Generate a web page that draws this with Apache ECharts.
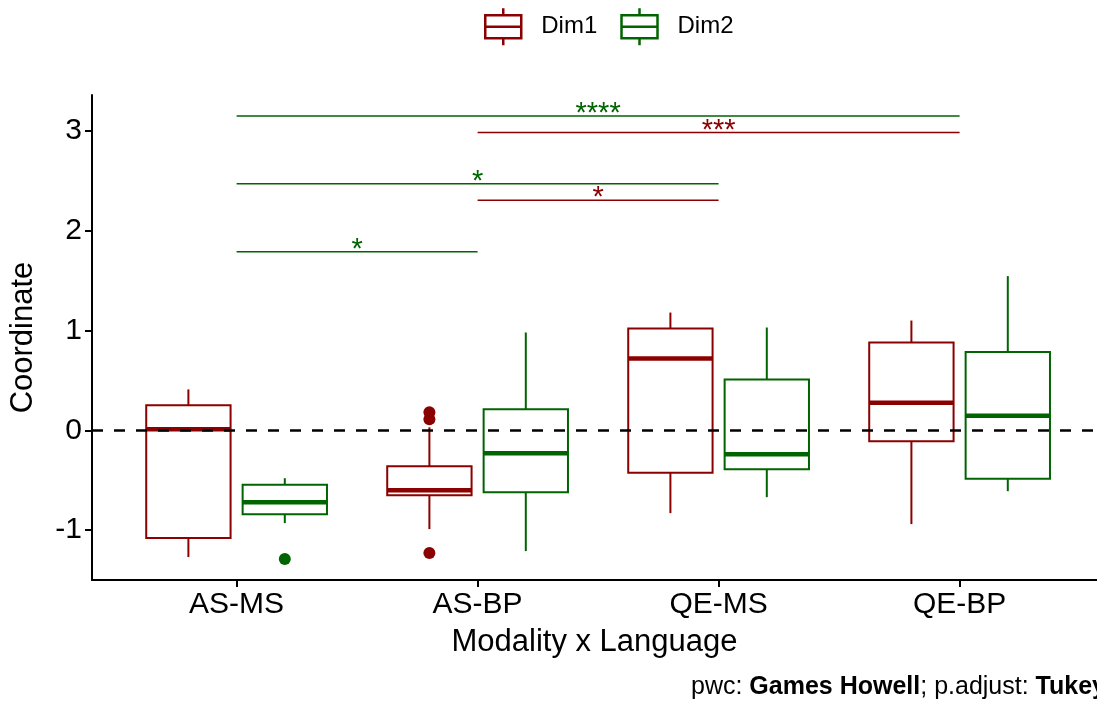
<!DOCTYPE html>
<html>
<head>
<meta charset="utf-8">
<script src="https://cdn.jsdelivr.net/npm/echarts@6/dist/echarts.min.js"></script>
<style>
  html, body { margin: 0; padding: 0; background: #fff; }
  #chart { width: 1097px; height: 702px; }
</style>
</head>
<body>
<div id="chart"></div>
<script>
// categories on the x axis
const categories = ['AS-MS', 'AS-BP', 'QE-MS', 'QE-BP'];

// box stats per category: [min, Q1, median, Q3, max]
const dim1Stats = [
  [-1.27, -1.08, 0.01, 0.25, 0.41],
  [-0.99, -0.65, -0.60, -0.36, 0.03],
  [-0.83, -0.425, 0.72, 1.02, 1.18],
  [-0.94, -0.11, 0.275, 0.88, 1.10]
];
const dim2Stats = [
  [-0.93, -0.84, -0.72, -0.545, -0.48],
  [-1.21, -0.62, -0.23, 0.21, 0.98],
  [-0.67, -0.39, -0.24, 0.51, 1.03],
  [-0.61, -0.485, 0.145, 0.785, 1.545]
];

// outliers: [category index (1-based), value]
const dim1Outliers = [[2, 0.18], [2, 0.11], [2, -1.23]];
const dim2Outliers = [[1, -1.29]];

// significance brackets: [from category, to category, y]
const brackets = [
  [1, 4, 3.15],
  [2, 4, 2.983],
  [1, 3, 2.47],
  [2, 3, 2.305],
  [1, 2, 1.79]
];
const bracketLabels = ['****', '***', '*', '*', '*'];
const bracketGroup = ['Dim2', 'Dim1', 'Dim2', 'Dim1', 'Dim2'];

const yTicks = [-1, 0, 1, 2, 3];
const xTicks = [1, 2, 3, 4];

const COLORS = { Dim1: '#8B0000', Dim2: '#006400' };
const DODGE = 0.2;      // box center offset from category center
const HALF_W = 0.175;   // half box width in category units
const BAND = 241;       // px per category
const GRID_LEFT = 92;
const FONT = 'Liberation Sans, Arial, Helvetica, sans-serif';

// 把统计量转成 custom series 数据
function boxData(stats) {
  return stats.map((s, i) => [i + 1].concat(s));
}

// 箱线图绘制
function boxRender(offset, color) {
  return function (params, api) {
    const x = api.value(0) + offset;
    const min = api.value(1), q1 = api.value(2), med = api.value(3), q3 = api.value(4), max = api.value(5);
    const tl = api.coord([x - HALF_W, q3]);
    const br = api.coord([x + HALF_W, q1]);
    const mL = api.coord([x - HALF_W, med]);
    const mR = api.coord([x + HALF_W, med]);
    const top = api.coord([x, max]);
    const q3c = api.coord([x, q3]);
    const q1c = api.coord([x, q1]);
    const bot = api.coord([x, min]);
    const line = { stroke: color, lineWidth: 2, fill: null };
    return {
      type: 'group',
      children: [
        { type: 'line', shape: { x1: top[0], y1: top[1], x2: q3c[0], y2: q3c[1] }, style: line },
        { type: 'line', shape: { x1: q1c[0], y1: q1c[1], x2: bot[0], y2: bot[1] }, style: line },
        { type: 'rect', shape: { x: tl[0], y: tl[1], width: br[0] - tl[0], height: br[1] - tl[1] }, style: { stroke: color, lineWidth: 2, fill: 'rgba(255,255,255,0)' } },
        { type: 'line', shape: { x1: mL[0], y1: mL[1], x2: mR[0], y2: mR[1] }, style: { stroke: color, lineWidth: 4.5 } }
      ]
    };
  };
}

// 显著性标注
function bracketRender(params, api) {
  const i = params.dataIndex;
  const p1 = api.coord([api.value(0), api.value(2)]);
  const p2 = api.coord([api.value(1), api.value(2)]);
  const color = COLORS[bracketGroup[i]];
  return {
    type: 'group',
    children: [
      { type: 'line', shape: { x1: p1[0], y1: p1[1], x2: p2[0], y2: p2[1] }, style: { stroke: color, lineWidth: 1.5 } },
      {
        type: 'text',
        x: (p1[0] + p2[0]) / 2,
        y: p1[1] - 2,
        style: {
          text: bracketLabels[i],
          fill: color,
          font: '29px ' + FONT,
          align: 'center',
          verticalAlign: 'middle'
        }
      }
    ]
  };
}

const boxIcon = 'path://M18,0L18,7M0,7L36,7L36,30L0,30ZM0,18.5L36,18.5M18,30L18,37';

const chart = echarts.init(document.getElementById('chart'), null, { renderer: 'canvas' });

chart.setOption({
  animation: false,
  backgroundColor: '#fff',
  textStyle: { fontFamily: FONT, color: '#000' },
  legend: {
    left: 484,
    top: 7,
    padding: 0,
    itemWidth: 36,
    itemHeight: 37,
    itemGap: 23,
    textStyle: { fontSize: 24, color: '#000', fontFamily: FONT, padding: [0, 0, 0, 15] },
    data: [
      { name: 'Dim1', icon: boxIcon, itemStyle: { color: '#fff', borderColor: COLORS.Dim1, borderWidth: 2.5 } },
      { name: 'Dim2', icon: boxIcon, itemStyle: { color: '#fff', borderColor: COLORS.Dim2, borderWidth: 2.5 } }
    ]
  },
  grid: { left: GRID_LEFT, top: 95, right: 0, height: 485 },
  xAxis: {
    type: 'value',
    min: 0.4,
    // the panel runs past the right edge of the picture, so stop at the canvas edge
    max: 0.4 + (1097 - GRID_LEFT) / BAND,
    name: 'Modality x Language',
    nameLocation: 'middle',
    nameGap: 47,
    nameTextStyle: { fontSize: 31, color: '#000', fontFamily: FONT },
    splitLine: { show: false },
    axisLine: { show: true, onZero: false, lineStyle: { color: '#000', width: 2 } },
    axisTick: { show: true, length: 7, customValues: xTicks, lineStyle: { color: '#000', width: 2 } },
    axisLabel: {
      customValues: xTicks,
      formatter: v => categories[Math.round(v) - 1] || '',
      fontSize: 30,
      color: '#000',
      margin: 10,
      fontFamily: FONT
    }
  },
  yAxis: {
    type: 'value',
    min: -1.5,
    max: 3.36,
    name: 'Coordinate',
    nameLocation: 'middle',
    nameGap: 53,
    nameTextStyle: { fontSize: 31, color: '#000', fontFamily: FONT },
    splitLine: { show: false },
    axisLine: { show: true, onZero: false, lineStyle: { color: '#000', width: 2 } },
    axisTick: { show: true, length: 7, customValues: yTicks, lineStyle: { color: '#000', width: 2 } },
    axisLabel: {
      customValues: yTicks,
      fontSize: 30,
      color: '#000',
      margin: 10,
      fontFamily: FONT
    }
  },
  graphic: [
    {
      type: 'text',
      left: 691,
      top: 675,
      style: {
        text: '{n|pwc: }{b|Games Howell}{n|; p.adjust: }{b|Tukey}',
        rich: {
          n: { fontSize: 25, fontFamily: FONT, fill: '#000' },
          b: { fontSize: 25, fontFamily: FONT, fontWeight: 'bold', fill: '#000' }
        }
      }
    }
  ],
  series: [
    {
      name: 'Dim1',
      type: 'custom',
      renderItem: boxRender(-DODGE, COLORS.Dim1),
      itemStyle: { color: COLORS.Dim1 },
      encode: { x: 0, y: [1, 2, 3, 4, 5] },
      data: boxData(dim1Stats),
      z: 2
    },
    {
      name: 'Dim2',
      type: 'custom',
      renderItem: boxRender(DODGE, COLORS.Dim2),
      itemStyle: { color: COLORS.Dim2 },
      encode: { x: 0, y: [1, 2, 3, 4, 5] },
      data: boxData(dim2Stats),
      z: 2
    },
    {
      name: 'Dim1',
      type: 'scatter',
      symbolSize: 12,
      itemStyle: { color: COLORS.Dim1, opacity: 1 },
      data: dim1Outliers.map(d => [d[0] - DODGE, d[1]]),
      z: 3
    },
    {
      name: 'Dim2',
      type: 'scatter',
      symbolSize: 12,
      itemStyle: { color: COLORS.Dim2, opacity: 1 },
      data: dim2Outliers.map(d => [d[0] + DODGE, d[1]]),
      z: 3,
      markLine: {
        silent: true,
        symbol: ['none', 'none'],
        label: { show: false },
        lineStyle: { color: '#000', width: 2.5, type: [11, 11] },
        data: [{ yAxis: 0 }]
      }
    },
    {
      name: 'brackets',
      type: 'custom',
      renderItem: bracketRender,
      encode: { x: [0, 1], y: 2 },
      data: brackets,
      z: 4
    }
  ]
});
</script>
</body>
</html>
